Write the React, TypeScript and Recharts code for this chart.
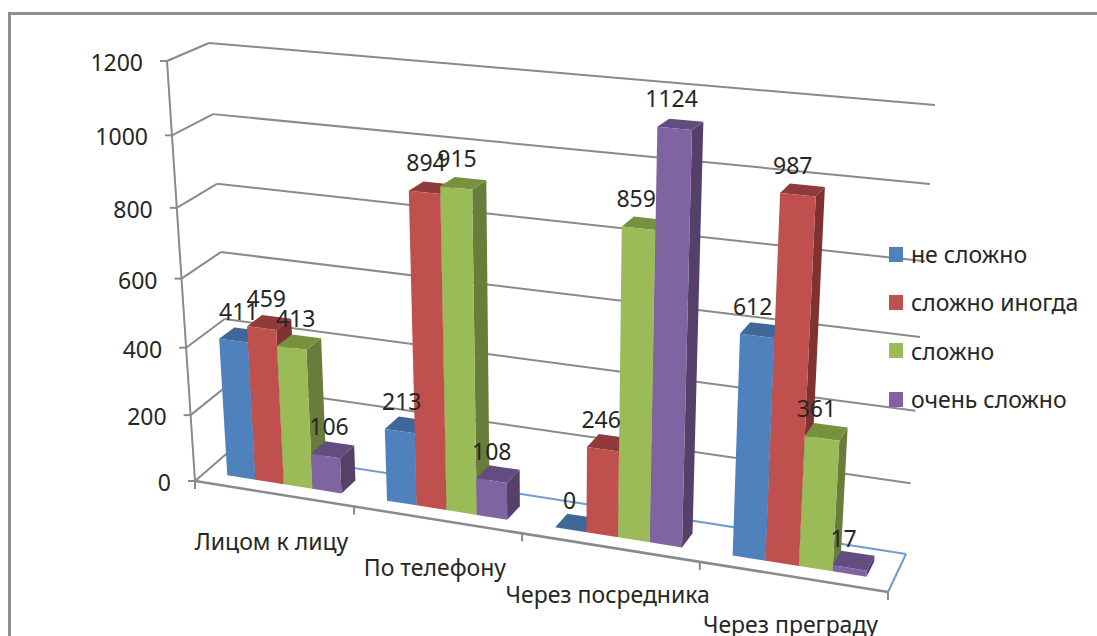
import { BarChart, Bar, XAxis, YAxis, CartesianGrid, Legend, LabelList } from 'recharts';

const categories = ['Лицом к лицу', 'По телефону', 'Через посредника', 'Через преграду'];
const seriesNames = ['не сложно', 'сложно иногда', 'сложно', 'очень сложно'];
const notHard = [411, 213, 0, 612];
const hardSometimes = [459, 894, 246, 987];
const hard = [413, 915, 859, 361];
const veryHard = [106, 108, 1124, 17];
const seriesValues = [notHard, hardSometimes, hard, veryHard];
const valueTicks = [0, 200, 400, 600, 800, 1000, 1200];

const frontColors = ['#4f81bd', '#c0504d', '#9bbb59', '#8064a2'];
const topColors = ['#3f6797', '#8f3b39', '#76923f', '#634c7f'];
const sideColors = ['#385b86', '#7f3230', '#677d39', '#544069'];

const FONT = '"Noto Sans", sans-serif';
const FONT_SIZE = 23;
const TEXT = '#262626';
const AXIS_GRAY = '#8a8a8a';
const FLOOR_BLUE = '#6f9ccf';

const chartData = categories.map((name, i) => {
  const row: Record<string, string | number> = { name };
  seriesNames.forEach((s, j) => {
    row[s] = seriesValues[j][i];
  });
  return row;
});

// flat plot box that recharts lays out, the projection below maps it to the 3D view
const PLOT = { left: 100, top: 100, width: 800, height: 400 };

// screen position of the box corners: [u][v][w]
const CORNERS = [
  [
    [[195, 481], [232, 449]],
    [[167, 61], [209, 43]],
  ],
  [
    [[888, 592], [906, 554]],
    [[917, 125], [935, 105]],
  ],
];
const PERSP = { u: -0.106, v: -0.07, w: 0.2 };
const BAR_FRONT = 0.25;
const BAR_BACK = 0.64;

function project(u: number, v: number, w: number): [number, number] {
  let sx = 0;
  let sy = 0;
  let sum = 0;
  for (let i = 0; i < 2; i++) {
    for (let j = 0; j < 2; j++) {
      for (let k = 0; k < 2; k++) {
        const blend = (i ? u : 1 - u) * (j ? v : 1 - v) * (k ? w : 1 - w);
        const weight = blend * (1 + PERSP.u * i + PERSP.v * j + PERSP.w * k);
        sx += CORNERS[i][j][k][0] * weight;
        sy += CORNERS[i][j][k][1] * weight;
        sum += weight;
      }
    }
  }
  return [sx / sum, sy / sum];
}

const toU = (x: number) => (x - PLOT.left) / PLOT.width;
const toV = (y: number) => (PLOT.top + PLOT.height - y) / PLOT.height;

const poly = (pts: [number, number][]) => pts.map((p) => `${p[0]},${p[1]}`).join(' ');

function line(a: [number, number], b: [number, number], stroke: string, width: number, key?: string) {
  return <line key={key} x1={a[0]} y1={a[1]} x2={b[0]} y2={b[1]} stroke={stroke} strokeWidth={width} />;
}

function GridLine(props: any) {
  const v = toV(props.y1);
  const corner = project(0, v, 1);
  const isFloor = v < 0.001;
  return (
    <g key={props.key}>
      {line(project(0, v, 0), corner, AXIS_GRAY, 2)}
      {line(corner, project(1, v, 1), isFloor ? FLOOR_BLUE : AXIS_GRAY, 2)}
      {isFloor && line(project(1, 0, 1), project(1, 0, 0), FLOOR_BLUE, 2)}
      {isFloor && line(project(0, 0, 0), project(1, 0, 0), AXIS_GRAY, 2.5)}
      {isFloor && line(project(0, 0, 0), project(0, 1, 0), AXIS_GRAY, 2)}
      {isFloor &&
        [0, 1, 2, 3, 4].map((n) => {
          const p = project(n / categories.length, 0, 0);
          return line(p, [p[0], p[1] + 8], AXIS_GRAY, 2, `stub-${n}`);
        })}
    </g>
  );
}

const barShape = (index: number) => (props: any) => {
  const { x, y, width, height } = props;
  const u0 = toU(x);
  const u1 = toU(x + width);
  const vTop = toV(y);
  const vBottom = toV(y + height);
  const front: [number, number][] = [
    project(u0, vBottom, BAR_FRONT),
    project(u1, vBottom, BAR_FRONT),
    project(u1, vTop, BAR_FRONT),
    project(u0, vTop, BAR_FRONT),
  ];
  const top: [number, number][] = [
    project(u0, vTop, BAR_FRONT),
    project(u1, vTop, BAR_FRONT),
    project(u1, vTop, BAR_BACK),
    project(u0, vTop, BAR_BACK),
  ];
  const side: [number, number][] = [
    project(u1, vBottom, BAR_FRONT),
    project(u1, vBottom, BAR_BACK),
    project(u1, vTop, BAR_BACK),
    project(u1, vTop, BAR_FRONT),
  ];
  return (
    <g>
      <polygon points={poly(side)} fill={sideColors[index]} />
      <polygon points={poly(top)} fill={topColors[index]} />
      <polygon points={poly(front)} fill={frontColors[index]} />
    </g>
  );
};

function BarValue(props: any) {
  const { x, y, width, value } = props;
  const u = toU(x + width / 2);
  const p = project(u, toV(y), BAR_FRONT);
  return (
    <text x={p[0] + 6 - 13 * u} y={p[1] - 30} textAnchor="middle" dominantBaseline="central" fontFamily={FONT} fontSize={FONT_SIZE} fill={TEXT}>
      {value}
    </text>
  );
}

function ValueTick(props: any) {
  const p = project(0, toV(props.y), 0);
  return (
    <g>
      {line([p[0] - 7, p[1]], p, AXIS_GRAY, 2)}
      <text x={p[0] - 24} y={p[1] + 1} textAnchor="end" dominantBaseline="central" fontFamily={FONT} fontSize={FONT_SIZE} fill={TEXT}>
        {props.payload.value}
      </text>
    </g>
  );
}

function CategoryTick(props: any) {
  const p = project(toU(props.x), 0, 0);
  return (
    <text x={p[0] - 2} y={p[1] + 47} textAnchor="middle" dominantBaseline="central" fontFamily={FONT} fontSize={FONT_SIZE} fill={TEXT}>
      {props.payload.value}
    </text>
  );
}

function LegendList() {
  return (
    <div style={{ fontFamily: FONT, fontSize: FONT_SIZE, color: TEXT, whiteSpace: 'nowrap' }}>
      {seriesNames.map((name, i) => (
        <div key={name} style={{ display: 'flex', alignItems: 'center', height: 48.3 }}>
          <span style={{ width: 14, height: 15, background: frontColors[i], marginRight: 8 }} />
          {name}
        </div>
      ))}
    </div>
  );
}

export default function App() {
  return (
    <div style={{ position: 'fixed', left: 0, top: 0, width: 1097, height: 636, overflow: 'hidden', background: '#fff' }}>
      <div style={{ position: 'absolute', left: 8, top: 12, right: -4, bottom: -4, borderTop: '3px solid #8f8f8f', borderLeft: '3px solid #8f8f8f' }} />
      <BarChart
        width={1097}
        height={636}
        data={chartData}
        margin={{ left: PLOT.left - 1, top: PLOT.top, right: 1097 - PLOT.left - PLOT.width, bottom: 636 - PLOT.top - PLOT.height - 1 }}
        barCategoryGap="14%"
        barGap={0}
      >
        <CartesianGrid horizontal={GridLine as any} vertical={false} />
        <XAxis dataKey="name" height={1} axisLine={false} tickLine={false} interval={0} tick={CategoryTick as any} />
        <YAxis width={1} domain={[0, 1200]} ticks={valueTicks} axisLine={false} tickLine={false} tick={ValueTick as any} />
        <Legend
          layout="horizontal"
          align="center"
          verticalAlign="middle"
          content={<LegendList />}
          wrapperStyle={{ left: 889, top: 230, width: 205 }}
        />
        {seriesNames.map((name, i) => (
          <Bar key={name} dataKey={name} isAnimationActive={false} fill={frontColors[i]} shape={barShape(i) as any}>
            <LabelList dataKey={name} content={BarValue as any} />
          </Bar>
        ))}
      </BarChart>
    </div>
  );
}
